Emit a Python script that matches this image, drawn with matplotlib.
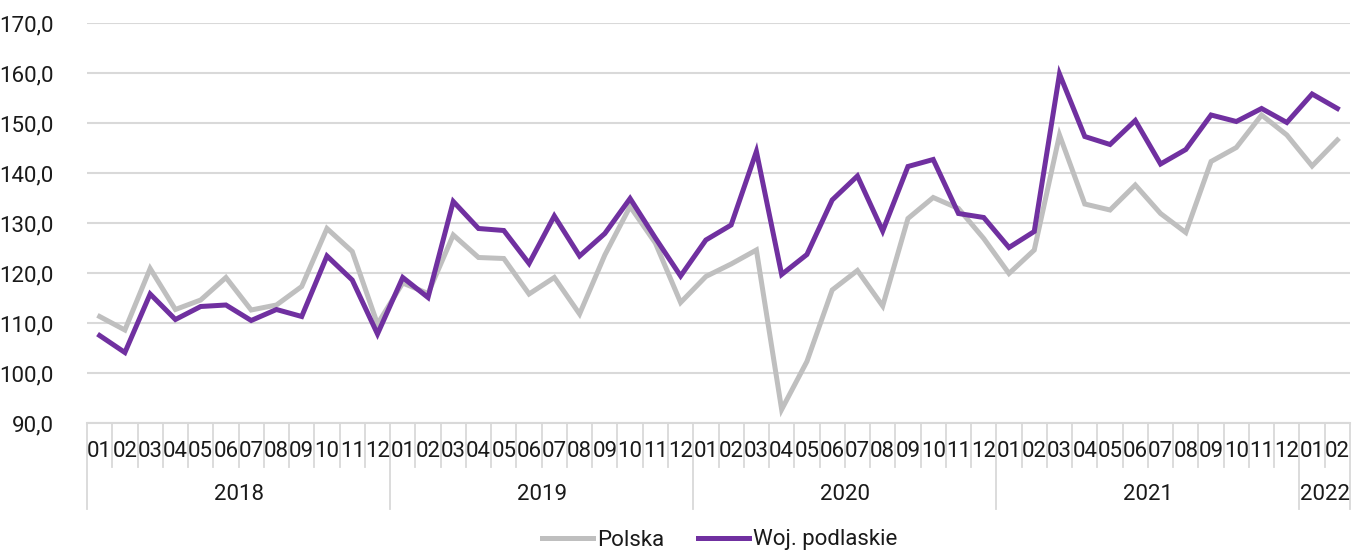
import matplotlib
matplotlib.use("Agg")
import matplotlib.pyplot as plt
import numpy as np

plt.rcParams['font.family'] = ['Roboto', 'DejaVu Sans']

years = ["2018", "2019", "2020", "2021", "2022"]
months_per_year = [12, 12, 12, 12, 2]
month_labels = ["01", "02", "03", "04", "05", "06", "07", "08", "09", "10", "11", "12"]

polska = [111.3, 108.6, 120.9, 112.7, 114.6, 119.1, 112.6, 113.6, 117.3, 128.9, 124.3, 109.8,
          118.0, 115.9, 127.6, 123.1, 122.9, 115.8, 119.1, 111.8, 123.6, 133.3, 126.0, 114.1,
          119.3, 121.8, 124.6, 92.7, 102.3, 116.6, 120.5, 113.4, 130.9, 135.1, 132.9, 126.9,
          119.9, 124.6, 147.6, 133.8, 132.6, 137.6, 131.9, 128.1, 142.3, 145.1, 151.6, 147.6,
          141.4, 146.6]
podlaskie = [107.5, 104.1, 115.8, 110.7, 113.3, 113.6, 110.5, 112.7, 111.3, 123.4, 118.6, 107.8,
             119.1, 115.1, 134.3, 128.9, 128.5, 121.9, 131.4, 123.4, 127.9, 134.9, 127.0, 119.4,
             126.6, 129.6, 144.3, 119.7, 123.7, 134.6, 139.4, 128.4, 141.3, 142.7, 131.9, 131.1,
             125.1, 128.3, 159.8, 147.3, 145.7, 150.5, 141.8, 144.7, 151.6, 150.3, 152.9, 150.1,
             155.8, 152.9]

series_names = ["Polska", "Woj. podlaskie"]
colors = ["#bfbfbf", "#7030a0"]

W, H = 1363, 553
fig = plt.figure(figsize=(W / 100, H / 100), dpi=100)
ax = fig.add_axes([87 / W, 1 - 423 / H, (1350 - 87) / W, 400 / H])

n = len(polska)
x = np.arange(n)
ax.plot(x, polska, color=colors[0], lw=3.6, label=series_names[0], solid_joinstyle='miter', zorder=3)
ax.plot(x, podlaskie, color=colors[1], lw=3.6, label=series_names[1], solid_joinstyle='miter', zorder=4)

ax.set_xlim(-0.5, n - 0.5)
ax.set_ylim(90, 170)
ax.set_yticks(np.arange(90, 171, 10))
ax.set_yticklabels([f"{v:.1f}".replace(".", ",") for v in np.arange(90, 171, 10)])
ax.yaxis.grid(True, color="#d9d9d9", lw=1.5)
ax.set_axisbelow(True)
ax.tick_params(axis='y', length=0, pad=24, labelsize=16, labelcolor="#1a1a1a")
ax.set_xticks([])
for s in ["left", "right", "top"]:
    ax.spines[s].set_visible(False)
ax.spines["bottom"].set_color("#d9d9d9")
ax.spines["bottom"].set_linewidth(1.5)

trans = ax.get_xaxis_transform()
month_y = -0.072
year_y = -0.18
month_sep = -0.11
year_sep = -0.215
sep_color = "#d9d9d9"

idx = 0
year_bounds = [-0.5]
for yr, cnt in zip(years, months_per_year):
    for m in range(cnt):
        ax.text(idx + m, month_y, month_labels[m], transform=trans, ha="center", va="center",
                fontsize=16, color="#1a1a1a")
        if m > 0:
            ax.plot([idx + m - 0.5] * 2, [0, month_sep], transform=trans, color=sep_color,
                    lw=1.3, clip_on=False)
    ax.text(idx + (cnt - 1) / 2, year_y, yr, transform=trans, ha="center", va="center",
            fontsize=16, color="#1a1a1a")
    idx += cnt
    year_bounds.append(idx - 0.5)
for b in year_bounds:
    ax.plot([b, b], [0, year_sep], transform=trans, color=sep_color, lw=1.3, clip_on=False)

fig.legend(loc="center", bbox_to_anchor=(0.528, 1 - 540 / H), ncol=2, frameon=False,
           fontsize=16, handlelength=2.3, handletextpad=0.2, columnspacing=1.5)
for t in fig.legends[0].get_texts():
    t.set_color("#1a1a1a")

fig.savefig("out.png", dpi=100)
